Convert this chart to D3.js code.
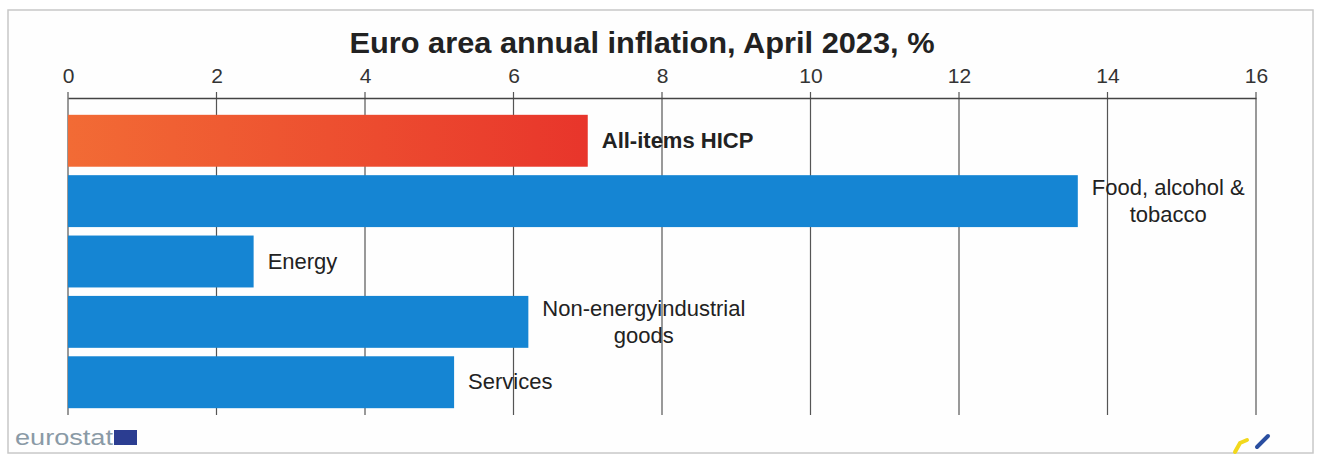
<!DOCTYPE html>
<html><head><meta charset="utf-8">
<script src="https://cdn.jsdelivr.net/npm/d3@7"></script>
<style>html,body{margin:0;padding:0;background:#fff;}svg{display:block;}</style>
</head><body>
<svg id="c" width="1323" height="461"></svg>
<script>
const categories = ["All-items HICP", "Food, alcohol & tobacco", "Energy", "Non-energy industrial goods", "Services"];
const labelLines = [["All-items HICP"], ["Food, alcohol &", "tobacco"], ["Energy"], ["Non-energyindustrial", "goods"], ["Services"]];
const values = [7.0, 13.6, 2.5, 6.2, 5.2];
const tickValues = [0, 2, 4, 6, 8, 10, 12, 14, 16];
const titleText = "Euro area annual inflation, April 2023, %";

const svg = d3.select("#c");
const font = "'Liberation Sans', Arial, sans-serif";

// frame
svg.append("rect").attr("x", 8).attr("y", 10).attr("width", 1305).attr("height", 443)
  .attr("fill", "#fefefe").attr("stroke", "#c8c8c8").attr("stroke-width", 1.5);

const x = d3.scaleLinear().domain([0, 16]).range([68, 1256]);
const y = d3.scaleBand().domain(categories).range([113, 410]).paddingInner(0.14).paddingOuter(0.03);

const defs = svg.append("defs");
const g = defs.append("linearGradient").attr("id", "red").attr("x1", "0%").attr("x2", "100%");
g.append("stop").attr("offset", "0%").attr("stop-color", "#f26b35");
g.append("stop").attr("offset", "100%").attr("stop-color", "#e8352b");

// title
svg.append("text").attr("x", 642).attr("y", 53).attr("text-anchor", "middle")
  .attr("font-family", font).attr("font-weight", "bold").attr("font-size", 30).attr("fill", "#222")
  .attr("textLength", 585).attr("lengthAdjust", "spacingAndGlyphs")
  .text(titleText);

// gridlines
svg.append("g").selectAll("line").data(tickValues).join("line")
  .attr("x1", d => x(d)).attr("x2", d => x(d)).attr("y1", 92).attr("y2", 415)
  .attr("stroke", "#555").attr("stroke-width", 1.2);

// axis
const axis = d3.axisTop(x).tickValues(tickValues).tickSize(0).tickPadding(15);
const ag = svg.append("g").attr("transform", "translate(0,98)").call(axis);
ag.select(".domain").attr("stroke", "#444").attr("stroke-width", 1.6);
ag.selectAll("text").attr("font-family", font).attr("font-size", 21).attr("fill", "#333");

// bars
svg.append("g").selectAll("rect").data(values).join("rect")
  .attr("x", x(0)).attr("y", (d, i) => y(categories[i]))
  .attr("width", d => x(d) - x(0)).attr("height", y.bandwidth())
  .attr("fill", (d, i) => i === 0 ? "url(#red)" : "#1585d3");

// labels
const lab = svg.append("g").selectAll("text").data(values).join("text")
  .attr("font-family", font).attr("font-size", 22).attr("fill", "#222")
  .attr("font-weight", (d, i) => i === 0 ? "bold" : "normal")
  .attr("x", (d, i) => x(d) + 14)
  .attr("y", (d, i) => y(categories[i]) + y.bandwidth() / 2 + (labelLines[i].length > 1 ? -6 : 7));
lab.each(function(d, i) {
  const t = d3.select(this);
  const x0 = +t.attr("x");
  const spans = labelLines[i].map((s, k) =>
    t.append("tspan").attr("x", x0).attr("dy", k === 0 ? 0 : 27).text(s));
  if (spans.length > 1) {
    const w = spans[0].node().getComputedTextLength();
    t.attr("text-anchor", "middle");
    spans.forEach(sp => sp.attr("x", x0 + w / 2));
  }
});

// eurostat logo
svg.append("text").attr("x", 15).attr("y", 445).attr("font-family", font).attr("font-size", 22)
  .attr("fill", "#8a9aa6").attr("textLength", 98).attr("lengthAdjust", "spacingAndGlyphs").text("eurostat");
svg.append("rect").attr("x", 114).attr("y", 430).attr("width", 23).attr("height", 15).attr("fill", "#2b3d91");

// small mark bottom right
svg.append("path").attr("d", "M1235,452 L1240,443 L1247,440").attr("fill", "none")
  .attr("stroke", "#f2d81c").attr("stroke-width", 4).attr("stroke-linecap", "round");
svg.append("path").attr("d", "M1257,447 L1268,436").attr("fill", "none")
  .attr("stroke", "#2a4ea0").attr("stroke-width", 4).attr("stroke-linecap", "round");
</script>
</body></html>
